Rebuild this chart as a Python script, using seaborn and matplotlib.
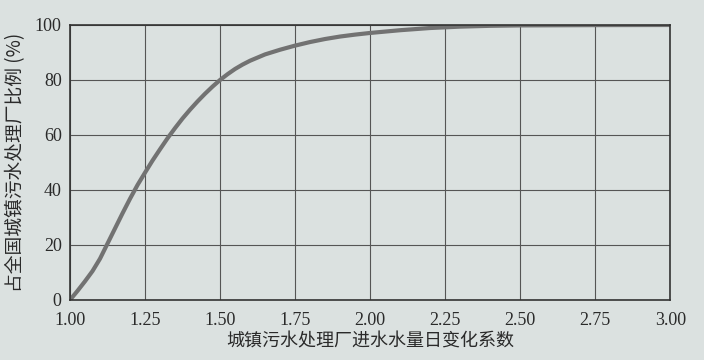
import matplotlib
matplotlib.use("Agg")
import matplotlib.pyplot as plt
import seaborn as sns
import pandas as pd

# Data
coef = [1.000, 1.025, 1.050, 1.075, 1.100, 1.125, 1.150, 1.175, 1.200, 1.225,
        1.250, 1.275, 1.300, 1.325, 1.350, 1.375, 1.400, 1.425, 1.450, 1.475,
        1.500, 1.525, 1.550, 1.575, 1.600, 1.650, 1.700, 1.750, 1.800, 1.850,
        1.900, 1.950, 2.000, 2.100, 2.200, 2.300, 2.400, 2.500, 2.750, 3.000]
share = [0, 3.3, 6.8, 10.5, 15, 20.5, 26, 31.5, 36.8, 41.8,
         46.3, 50.7, 54.8, 58.8, 62.5, 66, 69.2, 72.2, 75, 77.6,
         80, 82.1, 84, 85.6, 87, 89.3, 91, 92.5, 93.8, 94.9,
         95.8, 96.5, 97.1, 98.1, 98.9, 99.4, 99.7, 99.85, 99.95, 100]
xticks = [1.00, 1.25, 1.50, 1.75, 2.00, 2.25, 2.50, 2.75, 3.00]
yticks = [0, 20, 40, 60, 80, 100]
xlabel = "城镇污水处理厂进水水量日变化系数"
ylabel = "占全国城镇污水处理厂比例 (%)"

sns.set_theme(style="white")
bg = "#dbe1e0"
plt.rcParams["font.family"] = ["Liberation Serif", "Noto Sans CJK SC", "DejaVu Sans"]

fig = plt.figure(figsize=(7.04, 3.6), dpi=100, facecolor=bg)
ax = fig.add_axes([0.0994, 0.1667, 0.8526, 0.7639])
ax.set_facecolor(bg)

df = pd.DataFrame({"coef": coef, "share": share})
sns.lineplot(data=df, x="coef", y="share", ax=ax, color="#727272", linewidth=3.0)

ax.set_xlim(1.0, 3.0)
ax.set_ylim(0, 100)
ax.set_xticks(xticks)
ax.set_yticks(yticks)
ax.set_xticklabels([f"{v:.2f}" for v in xticks], fontsize=13, color="#2a2a2a")
ax.set_yticklabels([str(v) for v in yticks], fontsize=13, color="#2a2a2a")
ax.tick_params(axis="x", length=0, pad=9)
ax.tick_params(axis="y", length=0, pad=6)
ax.grid(True, color="#555555", linewidth=0.8)
for s in ax.spines.values():
    s.set_color("#333333")
    s.set_linewidth(1.2)

ax.set_xlabel(xlabel, fontsize=13, family=["Noto Sans CJK SC", "DejaVu Sans"],
              color="#2a2a2a", labelpad=2)
ax.set_ylabel(ylabel, fontsize=13.5, family=["Noto Sans CJK SC", "DejaVu Sans"],
              color="#2a2a2a", labelpad=6)

fig.savefig("out.png", dpi=100, facecolor=bg)
